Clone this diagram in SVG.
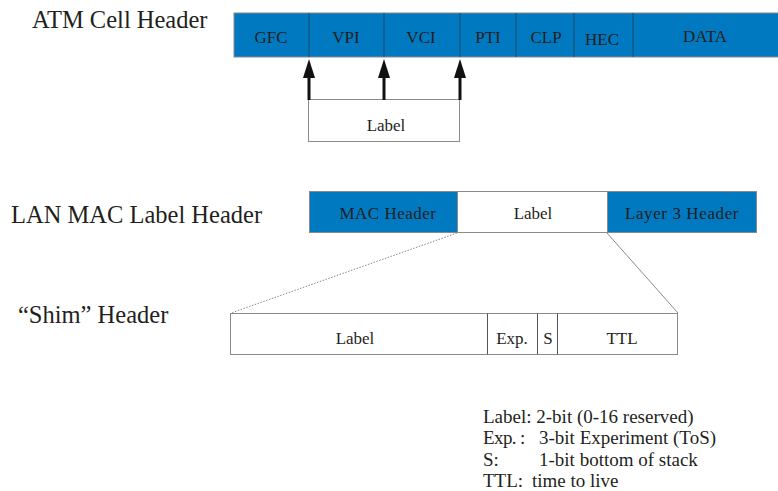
<svg xmlns="http://www.w3.org/2000/svg" width="778" height="491" viewBox="0 0 778 491">
<defs>
<style>
.t{font-family:"Liberation Serif","Times New Roman","DejaVu Serif",serif;fill:#231f20}
.title{font-size:24.5px}
.cell{font-size:17px;text-anchor:middle}
.blue{fill:#0079c1;stroke:#8a8a8a;stroke-width:1}
.div{stroke:#1d4a6b;stroke-width:1}
.white{fill:#fff;stroke:#8a8a8a;stroke-width:1}
.leg{font-size:19px}
</style>
</defs>
<rect width="778" height="491" fill="#fff"/>

<text class="t title" x="32" y="28">ATM Cell Header</text>
<text class="t title" x="11" y="223">LAN MAC Label Header</text>
<text class="t title" x="18" y="323">“Shim” Header</text>

<g id="atm">
<rect class="blue" x="234" y="13" width="545" height="44"/>
<line class="div" x1="309" y1="13" x2="309" y2="57"/>
<line class="div" x1="384" y1="13" x2="384" y2="57"/>
<line class="div" x1="460" y1="13" x2="460" y2="57"/>
<line class="div" x1="516" y1="13" x2="516" y2="57"/>
<line class="div" x1="574" y1="13" x2="574" y2="57"/>
<line class="div" x1="633" y1="13" x2="633" y2="57"/>
<text class="t cell" x="271" y="43">GFC</text>
<text class="t cell" x="346" y="43">VPI</text>
<text class="t cell" x="421" y="43">VCI</text>
<text class="t cell" x="488" y="43">PTI</text>
<text class="t cell" x="546" y="43">CLP</text>
<text class="t cell" x="602" y="45">HEC</text>
<text class="t cell" x="705" y="42">DATA</text>
</g>

<g id="atm-label">
<rect class="white" x="308.5" y="99.5" width="151" height="42"/>
<text class="t cell" x="386" y="131">Label</text>
</g>

<g id="connectors">
<g stroke="#111" stroke-width="3" fill="none">
<line x1="309" y1="100" x2="309" y2="70"/>
<line x1="384" y1="100" x2="384" y2="70"/>
<line x1="460" y1="100" x2="460" y2="70"/>
</g>
<g fill="#111">
<path d="M309 59 L303 78 L315 78 Z"/>
<path d="M384 59 L378 78 L390 78 Z"/>
<path d="M460 59 L454 78 L466 78 Z"/>
</g>
<line x1="457" y1="233" x2="231" y2="313" stroke="#8a8a8a" stroke-width="1" stroke-dasharray="1.5 1.5"/>
<line x1="607" y1="233" x2="678" y2="313" stroke="#8a8a8a" stroke-width="1"/>
</g>

<g id="lan">
<rect class="blue" x="309.5" y="191.5" width="148" height="41"/>
<rect class="white" x="457.5" y="191.5" width="150" height="41"/>
<rect class="blue" x="607.5" y="191.5" width="149" height="41"/>
<text class="t cell" x="388" y="219" letter-spacing="0.5">MAC Header</text>
<text class="t cell" x="533" y="219">Label</text>
<text class="t cell" x="682" y="219" letter-spacing="0.6">Layer 3 Header</text>
</g>

<g id="shim">
<rect class="white" x="230.5" y="313.5" width="447" height="41"/>
<line stroke="#555" x1="487.5" y1="313.5" x2="487.5" y2="354.5"/>
<line stroke="#555" x1="537.5" y1="313.5" x2="537.5" y2="354.5"/>
<line stroke="#555" x1="557.5" y1="313.5" x2="557.5" y2="354.5"/>
<text class="t cell" x="355" y="344">Label</text>
<text class="t cell" x="512" y="344">Exp.</text>
<text class="t cell" x="548" y="344">S</text>
<text class="t cell" x="622" y="344">TTL</text>
</g>

<g id="legend">
<text class="t leg" x="483" y="423">Label: 2-bit (0-16 reserved)</text>
<text class="t leg" x="483" y="444" letter-spacing="-0.6">Exp. :</text>
<text class="t leg" x="539" y="444">3-bit Experiment (ToS)</text>
<text class="t leg" x="483" y="466">S:</text>
<text class="t leg" x="539" y="466">1-bit bottom of stack</text>
<text class="t leg" x="483" y="487">TTL:</text>
<text class="t leg" x="532" y="487">time to live</text>
</g>
</svg>
